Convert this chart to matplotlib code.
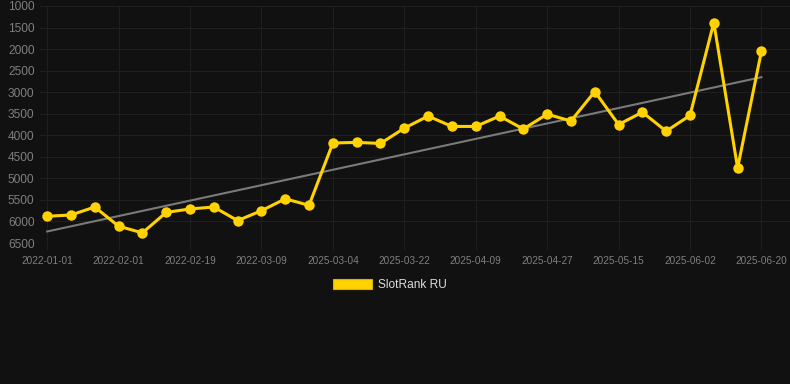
import numpy as np
import matplotlib
matplotlib.use("Agg")
import matplotlib.pyplot as plt
from matplotlib.patches import Patch

# rank values per observation (lower is better, axis is inverted)
ranks = [5880, 5850, 5665, 6110, 6265, 5790, 5710, 5665, 5980, 5750,
         5475, 5625, 4180, 4165, 4190, 3835, 3555, 3795, 3795, 3555,
         3855, 3510, 3670, 2985, 3750, 3465, 3905, 3540, 1385, 4760,
         2050]
tick_labels = ["2022-01-01", "2022-02-01", "2022-02-19", "2022-03-09",
               "2025-03-04", "2025-03-22", "2025-04-09", "2025-04-27",
               "2025-05-15", "2025-06-02", "2025-06-20"]
y_ticks = [1000, 1500, 2000, 2500, 3000, 3500, 4000, 4500, 5000, 5500, 6000, 6500]
series_name = "SlotRank RU"

BG = "#111111"
GRID = "#1f1f1f"
YELLOW = "#FFD200"
TEXT = "#7f7f7f"


def main():
    plt.rcParams["font.family"] = ["Liberation Sans", "DejaVu Sans"]
    fig = plt.figure(figsize=(7.9, 3.84), dpi=100, facecolor=BG)
    ax = fig.add_axes([40 / 790, 1 - 243 / 384, 750 / 790, 237 / 384])
    ax.set_facecolor(BG)

    x = np.arange(len(ranks))
    slope, intercept = np.polyfit(x, ranks, 1)
    ax.plot(x, slope * x + intercept, color="#7a7a7a", lw=1.5, zorder=2)
    ax.plot(x, ranks, color=YELLOW, lw=2.2, marker="o", ms=7.5,
            markeredgewidth=0, zorder=3)

    ax.set_ylim(6500, 1000)
    ax.set_yticks(y_ticks)
    ax.set_xlim(-0.3, 31.2)
    ax.set_xticks(np.arange(0, len(ranks), 3))
    ax.set_xticklabels(tick_labels)

    ax.grid(True, color=GRID, lw=0.8)
    ax.set_axisbelow(True)
    for s in ax.spines.values():
        s.set_visible(False)
    ax.tick_params(axis="x", colors=GRID, length=5, width=0.8, labelsize=7.2,
                   labelcolor=TEXT, pad=4)
    ax.tick_params(axis="y", length=0, labelsize=8.6, labelcolor=TEXT, pad=4)

    handle = Patch(facecolor=YELLOW, edgecolor="#d9b200", lw=0.8)
    fig.legend(handles=[handle], labels=[series_name], loc="center",
               bbox_to_anchor=(390 / 790, 1 - 285 / 384), frameon=False,
               fontsize=8.6, labelcolor="#dddddd", handlelength=3.3,
               handleheight=1.0, handletextpad=0.5)

    fig.savefig("out.png", dpi=100, facecolor=BG)


if __name__ == "__main__":
    main()
